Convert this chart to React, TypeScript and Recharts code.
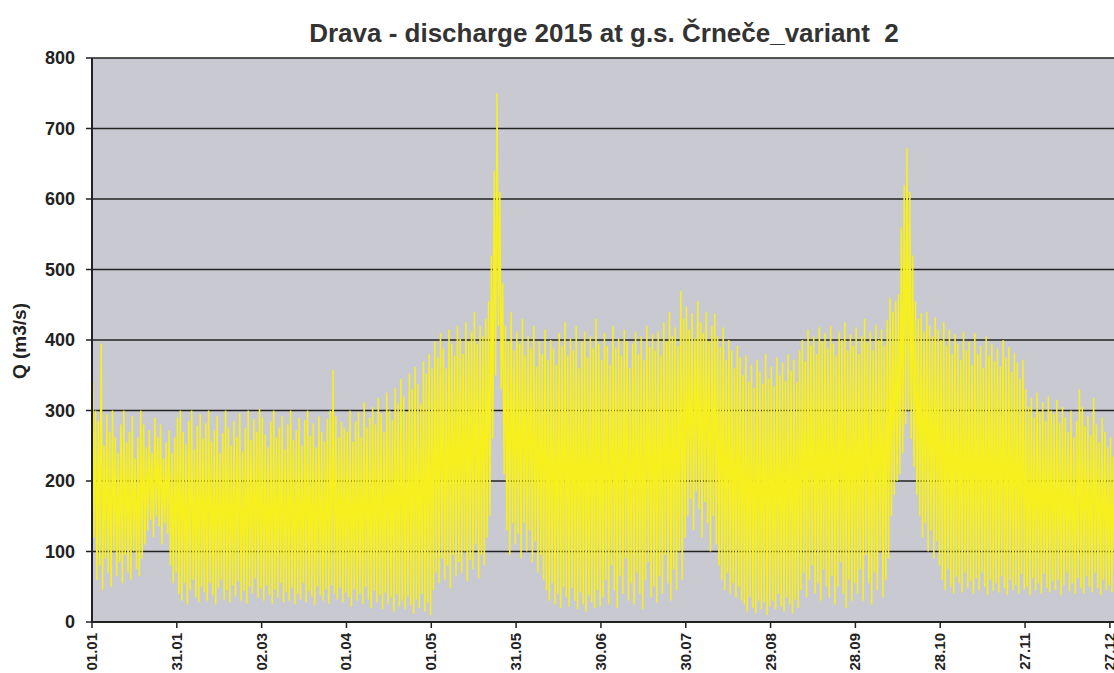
/**
 * Drava discharge 2015 at g.s. Črneče (variant 2) — daily peaking hydrograph.
 * Each day is drawn as its high and its low, which gives the dense yellow band.
 */

import { LineChart, Line, XAxis, YAxis, CartesianGrid } from 'recharts';

// day index (0 = 01.01) of each x tick and its label
const tickDays = [0, 30, 60, 90, 120, 150, 180, 210, 240, 270, 300, 330, 360];
const tickLabels = ['01.01', '31.01', '02.03', '01.04', '01.05', '31.05', '30.06', '30.07', '29.08', '28.09', '28.10', '27.11', '27.12'];
const yTicks = [0, 100, 200, 300, 400, 500, 600, 700, 800];

// daily maximum discharge, m3/s
const highs = [
  340, 300, 285, 395, 250, 295, 270, 300, 262, 240,
  280, 300, 255, 270, 292, 232, 262, 300, 280, 248,
  272, 240, 290, 262, 280, 232, 255, 272, 240, 262,
  290, 300, 270, 252, 285, 300, 245, 278, 295, 260,
  282, 300, 256, 272, 292, 240, 268, 300, 276, 250,
  285, 262, 296, 242, 275, 300, 258, 288, 270, 302,
  290, 266, 248, 284, 300, 262, 276, 292, 245, 280,
  300, 258, 272, 290, 250, 286, 300, 264, 282, 248,
  292, 270, 256, 288, 300, 358, 292, 262, 284, 276,
  270, 300, 256, 284, 298, 262, 312, 276, 290, 305,
  280, 318, 296, 270, 325, 300, 286, 332, 310, 345,
  320, 298, 352, 330, 362, 338, 310, 370, 352, 380,
  360, 398, 375, 410, 388, 360, 415, 395, 378, 420,
  402, 380, 425, 398, 412, 440, 395, 420, 405, 430,
  455, 520, 640, 750, 610, 480, 420, 398, 440, 385,
  412, 395, 430, 378, 405, 388, 420, 362, 398, 380,
  415, 372, 400, 388, 365, 410, 392, 425, 378, 402,
  385, 420, 360, 398, 412, 375, 405, 388, 430, 395,
  372, 410, 392, 365, 420, 388, 402, 378, 415, 398,
  360, 395, 412, 380, 405, 372, 420, 390, 408, 385,
  412, 378, 425, 398, 440, 405, 418, 392, 470, 430,
  448, 415, 438, 402, 455, 425, 410, 440, 398, 420,
  438, 405, 390, 418, 372, 400, 385, 360, 392, 375,
  350, 378, 340, 365, 332, 372, 355, 338, 380, 345,
  362, 335, 375, 350, 368, 342, 380, 356, 372, 340,
  385, 400, 370, 415, 392, 405, 380, 418, 398, 410,
  388, 420, 395, 378, 412, 400, 425, 385, 408, 392,
  418, 380, 405, 430, 396, 412, 385, 422, 400, 415,
  392, 428, 460, 440, 455, 465, 560, 620, 672, 610,
  520, 455, 430, 438, 412, 440, 420, 405, 432, 415,
  400, 425, 392, 415, 380, 408, 395, 372, 412, 385,
  398, 365, 410, 380, 392, 360, 405, 378, 395, 370,
  388, 362, 400, 375, 390, 355, 382, 368, 345, 372,
  330, 305, 318, 290, 325, 298, 312, 285, 320, 300,
  295, 315, 282, 305, 290, 270, 300, 262, 285, 330,
  305, 278, 292, 265, 318, 280, 255, 290, 270, 248,
  262, 235, 250, 225, 240,
];

// daily minimum discharge, m3/s
const lows = [
  120, 60, 80, 45, 90, 70, 50, 100, 65, 85,
  55, 95, 70, 60, 100, 75, 65, 90, 110, 130,
  145, 120, 150, 135, 110, 140, 125, 80, 55, 70,
  40, 30, 55, 25, 45, 60, 35, 28, 50, 42,
  30, 55, 38, 25, 48, 60, 32, 45, 28, 52,
  36, 58, 30, 44, 26, 50, 40, 62, 34, 48,
  30, 52, 38, 26, 46, 34, 55, 28, 42, 30,
  48, 25, 40, 32, 55, 28, 44, 36, 24, 50,
  38, 30, 46, 26, 52, 40, 32, 48, 28, 42,
  35, 22, 46, 30, 40, 26, 50, 32, 20, 44,
  28, 38, 18, 42, 25, 35, 15, 40, 22, 30,
  18, 36, 24, 12, 32, 20, 40, 15, 28, 10,
  45, 70, 55, 90, 60, 80, 48, 95, 65, 85,
  70, 100, 58, 88, 75, 110, 62, 95, 80, 120,
  150, 260, 350, 420, 330, 210, 130, 95, 140, 110,
  125, 90, 140, 100, 130, 85, 115, 70, 95, 60,
  45, 30, 55, 25, 40, 20, 50, 35, 22, 48,
  30, 18, 42, 25, 15, 38, 28, 20, 45, 22,
  35, 60, 25, 80, 45, 20, 65, 40, 90, 30,
  55, 25, 70, 40, 18, 60, 85, 35, 50, 28,
  65, 40, 95, 55, 30, 75, 45, 100, 60, 120,
  150, 175, 130, 185, 160, 120, 170, 140, 100, 150,
  110, 80, 60, 45, 70, 40, 55, 35, 50, 30,
  25, 15, 35, 20, 12, 30, 18, 28, 10, 22,
  30, 18, 40, 22, 15, 35, 25, 12, 32, 20,
  45, 70, 35, 60, 80, 40, 55, 30, 75, 50,
  35, 65, 25, 50, 85, 40, 20, 60, 30, 55,
  40, 75, 30, 95, 55, 25, 70, 45, 100, 35,
  60, 90, 150, 180, 200, 210, 240, 280, 300, 260,
  220, 180, 150, 120, 140, 100, 130, 90, 115, 80,
  60, 45, 75, 50, 40, 65, 55, 42, 70, 48,
  58, 40, 62, 45, 70, 50, 38, 60, 44, 55,
  42, 65, 48, 38, 60, 45, 52, 40, 68, 46,
  50, 38, 62, 45, 55, 40, 68, 48, 42, 58,
  45, 60, 38, 52, 70, 44, 55, 40, 62, 48,
  40, 65, 50, 42, 70, 48, 38, 60, 45, 52,
  42, 58, 40, 55, 45,
];

const data = highs.flatMap((h, d) => [
  { t: d + 0.25, q: h },
  { t: d + 0.75, q: lows[d] },
]);

const FONT = '"Liberation Sans", Arial, sans-serif';
const INK = '#222';

function XTick({ x, y, payload }: any) {
  const i = tickDays.indexOf(payload.value);
  return (
    <text
      transform={`translate(${x + 5},${y + 3}) rotate(-90)`}
      textAnchor="end"
      fontFamily={FONT}
      fontWeight="bold"
      fontSize={15}
      fill={INK}
    >
      {tickLabels[i]}
    </text>
  );
}

export default function App() {
  return (
    <div
      style={{
        position: 'fixed',
        left: 0,
        top: 0,
        width: 1114,
        height: 673,
        overflow: 'hidden',
        background: '#fff',
        fontFamily: FONT,
      }}
    >
      <div
        style={{
          position: 'absolute',
          left: 0,
          width: 1208,
          top: 18,
          textAlign: 'center',
          fontWeight: 'bold',
          fontSize: 26,
          color: '#333',
          whiteSpace: 'pre',
        }}
      >
        {'Drava - discharge 2015 at g.s. Črneče_variant  2'}
      </div>
      <div
        style={{
          position: 'absolute',
          left: 20,
          top: 341,
          transform: 'translate(-50%, -50%) rotate(-90deg)',
          fontWeight: 'bold',
          fontSize: 19,
          color: INK,
          whiteSpace: 'nowrap',
        }}
      >
        Q (m3/s)
      </div>
      <LineChart
        width={1130}
        height={673}
        data={data}
        margin={{ top: 58, right: 6, bottom: 0, left: 0 }}
      >
        <CartesianGrid vertical={false} stroke={INK} strokeWidth={1.5} fill="#c8c9d1" />
        <XAxis
          dataKey="t"
          type="number"
          domain={[0, 365]}
          ticks={tickDays}
          interval={0}
          height={51}
          tick={<XTick />}
          tickSize={6}
          tickLine={{ stroke: INK, strokeWidth: 1.5 }}
          axisLine={{ stroke: INK, strokeWidth: 2 }}
        />
        <YAxis
          domain={[0, 800]}
          ticks={yTicks}
          width={92}
          tickSize={6}
          tickMargin={11}
          tick={{ fill: INK, fontSize: 18, fontWeight: 'bold', fontFamily: FONT }}
          tickLine={{ stroke: INK, strokeWidth: 1.5 }}
          axisLine={{ stroke: INK, strokeWidth: 2 }}
        />
        <Line
          type="linear"
          dataKey="q"
          stroke="#f7f01e"
          strokeWidth={1.5}
          dot={false}
          isAnimationActive={false}
        />
      </LineChart>
    </div>
  );
}
